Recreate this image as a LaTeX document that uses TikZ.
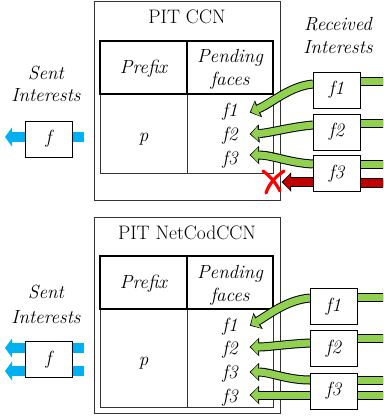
\documentclass[tikz,border=0pt]{standalone}
\usetikzlibrary{arrows.meta}
\definecolor{gfill}{RGB}{146,208,80}
\definecolor{rfill}{RGB}{192,0,0}
\definecolor{bfill}{RGB}{0,176,240}
\definecolor{xred}{RGB}{255,0,0}
\begin{document}
\begin{tikzpicture}[x=1pt,y=-1pt,
  font=\fontsize{19}{23}\selectfont,
  every node/.style={inner sep=0pt},
  lbl/.style={anchor=base, font=\fontsize{19}{23}\selectfont\itshape},
  ttl/.style={anchor=base, font=\fontsize{19.5}{23}\selectfont},
  facebox/.style={draw=black, line width=0.9pt, fill=white, minimum width=47pt, minimum height=36pt, font=\fontsize{19}{23}\selectfont\itshape},
  outerbox/.style={draw=black!80, line width=1pt},
  headline/.style={draw=black, line width=1.5pt},
  bodyline/.style={draw=black!80, line width=1pt},
  gbar/.style={line width=7pt, draw=gfill, preaction={draw=black, line width=9pt}},
  rbar/.style={line width=8pt, draw=rfill, preaction={draw=black, line width=10pt}},
  garrow/.style={line width=7pt, draw=gfill, -{Triangle[length=7pt,width=15pt,line width=0pt]},
     preaction={draw=black, line width=9pt, -{Triangle[length=9.5pt,width=18.5pt,line width=0pt]}, shorten >=-1.3pt}},
  rarrow/.style={line width=8pt, draw=rfill, -{Triangle[length=7pt,width=16pt,line width=0pt]},
     preaction={draw=black, line width=10pt, -{Triangle[length=9.5pt,width=19.5pt,line width=0pt]}, shorten >=-1.3pt}},
  barrow/.style={draw=bfill, line width=10pt, -{Triangle[length=7pt,width=19pt,line width=0pt]}},
  xmark/.style={draw=xred, line width=3.2pt, line cap=round}
]
\useasboundingbox (0,0) rectangle (383,420);
\clip (0,0) rectangle (383,420);

% ================= TOP PANEL =================
\draw[outerbox] (94,2) rectangle (280,200);
\node[ttl] (t1) at (187,24) {PIT CCN};
\draw[bodyline] (100,94) rectangle (273,173);
\draw[bodyline] (187,94) -- (187,173);
\draw[headline] (100,41) rectangle (273,94);
\draw[headline] (187,41) -- (187,94);
\node[lbl] (pre1) at (143.5,74) {Prefix};
\node[lbl] (pen1) at (230,63) {Pending};
\node[lbl] (fac1) at (230,85) {faces};
\node[lbl] (p1) at (143.5,141) {p};
\node[lbl] (a1) at (230,116) {f1};
\node[lbl] (a2) at (230,140) {f2};
\node[lbl] (a3) at (230,164) {f3};

\node[lbl] (rec1) at (338,31) {Received};
\node[lbl] (rec2) at (338,54) {Interests};
\node[lbl] (sen1) at (46,79) {Sent};
\node[lbl] (sen2) at (46,101) {Interests};

% coordinates
\coordinate (t1a) at (251,112);
\coordinate (t1b) at (251,134);
\coordinate (t1c) at (251,155);
\coordinate (t1d) at (283,182);
\coordinate (e1a) at (395,81);
\coordinate (e1b) at (395,123);
\coordinate (e1c) at (395,164);
\coordinate (e1d) at (395,183);
\coordinate (s1a) at (313,84);
\coordinate (s1b) at (313,125);
\coordinate (s1c) at (313,164);
\coordinate (s1d) at (313,182);
\coordinate (bl1) at (5,137);
\coordinate (br1) at (84,137);

% bars on the right
\draw[gbar] (336,81) -- (e1a);
\draw[gbar] (336,123) -- (e1b);
\draw[gbar] (336,164) -- (e1c);
\draw[rbar] (336,183) -- (e1d);

% arrows
\draw[garrow] (s1a) .. controls (290,86) and (272,103) .. (t1a);
\draw[garrow] (s1b) .. controls (290,127) and (270,133) .. (t1b);
\draw[garrow] (s1c) .. controls (290,163) and (272,155) .. (t1c);
\draw[rarrow] (s1d) -- (t1d);

% red cross
\draw[xmark] (263,171) .. controls (270,176) and (276,183) .. (280,191);
\draw[xmark] (284,171) .. controls (275,177) and (269,184) .. (266,193);

% face boxes
\node[facebox] (F1) at (336.5,90) {f1};
\node[facebox] (F2) at (336.5,132) {f2};
\node[facebox] (F3) at (336.5,173.5) {f3};

% sent
\draw[barrow] (br1) -- (bl1);
\node[facebox] (S1) at (48.5,139) {f};

% ================= BOTTOM PANEL =================
\draw[outerbox] (94,217) rectangle (280,413);
\node[ttl] (t2) at (187,239) {PIT NetCodCCN};
\draw[bodyline] (100,309) rectangle (273,407);
\draw[bodyline] (187,309) -- (187,407);
\draw[headline] (100,256) rectangle (273,309);
\draw[headline] (187,256) -- (187,309);
\node[lbl] (pre2) at (143.5,288) {Prefix};
\node[lbl] (pen2) at (230,278) {Pending};
\node[lbl] (fac2) at (230,301) {faces};
\node[lbl] (p2) at (143.5,365) {p};
\node[lbl] (b1) at (230,331) {f1};
\node[lbl] (b2) at (230,354) {f2};
\node[lbl] (b3) at (230,378) {f3};
\node[lbl] (b4) at (230,402) {f3};

\node[lbl] (sen3) at (46,298) {Sent};
\node[lbl] (sen4) at (46,323) {Interests};

\coordinate (t2a) at (251,325);
\coordinate (t2b) at (251,347);
\coordinate (t2c) at (251,372);
\coordinate (t2d) at (251,395);
\coordinate (s2a) at (310,298);
\coordinate (s2b) at (310,343);
\coordinate (s2c) at (310,380);
\coordinate (s2d) at (310,395);
\coordinate (e2a) at (395,297);
\coordinate (e2b) at (395,338);
\coordinate (e2c) at (395,380);
\coordinate (e2d) at (395,395);
\coordinate (bl2) at (5,348);
\coordinate (br2) at (84,348);
\coordinate (bl3) at (5,371);
\coordinate (br3) at (84,371);

\draw[gbar] (333,297) -- (e2a);
\draw[gbar] (333,338) -- (e2b);
\draw[gbar] (333,380) -- (e2c);
\draw[gbar] (333,395) -- (e2d);

\draw[garrow] (s2a) .. controls (287,300) and (270,314) .. (t2a);
\draw[garrow] (s2b) .. controls (287,344) and (268,347) .. (t2b);
\draw[garrow] (s2c) .. controls (287,380) and (270,372) .. (t2c);
\draw[garrow] (s2d) -- (t2d);

\node[facebox] (G1) at (333.5,306.5) {f1};
\node[facebox] (G2) at (333.5,348.5) {f2};
\node[facebox] (G3) at (333.5,391) {f3};

\draw[barrow] (br2) -- (bl2);
\draw[barrow] (br3) -- (bl3);
\node[facebox] (S2) at (48.5,359.5) {f};
\end{tikzpicture}
\end{document}
